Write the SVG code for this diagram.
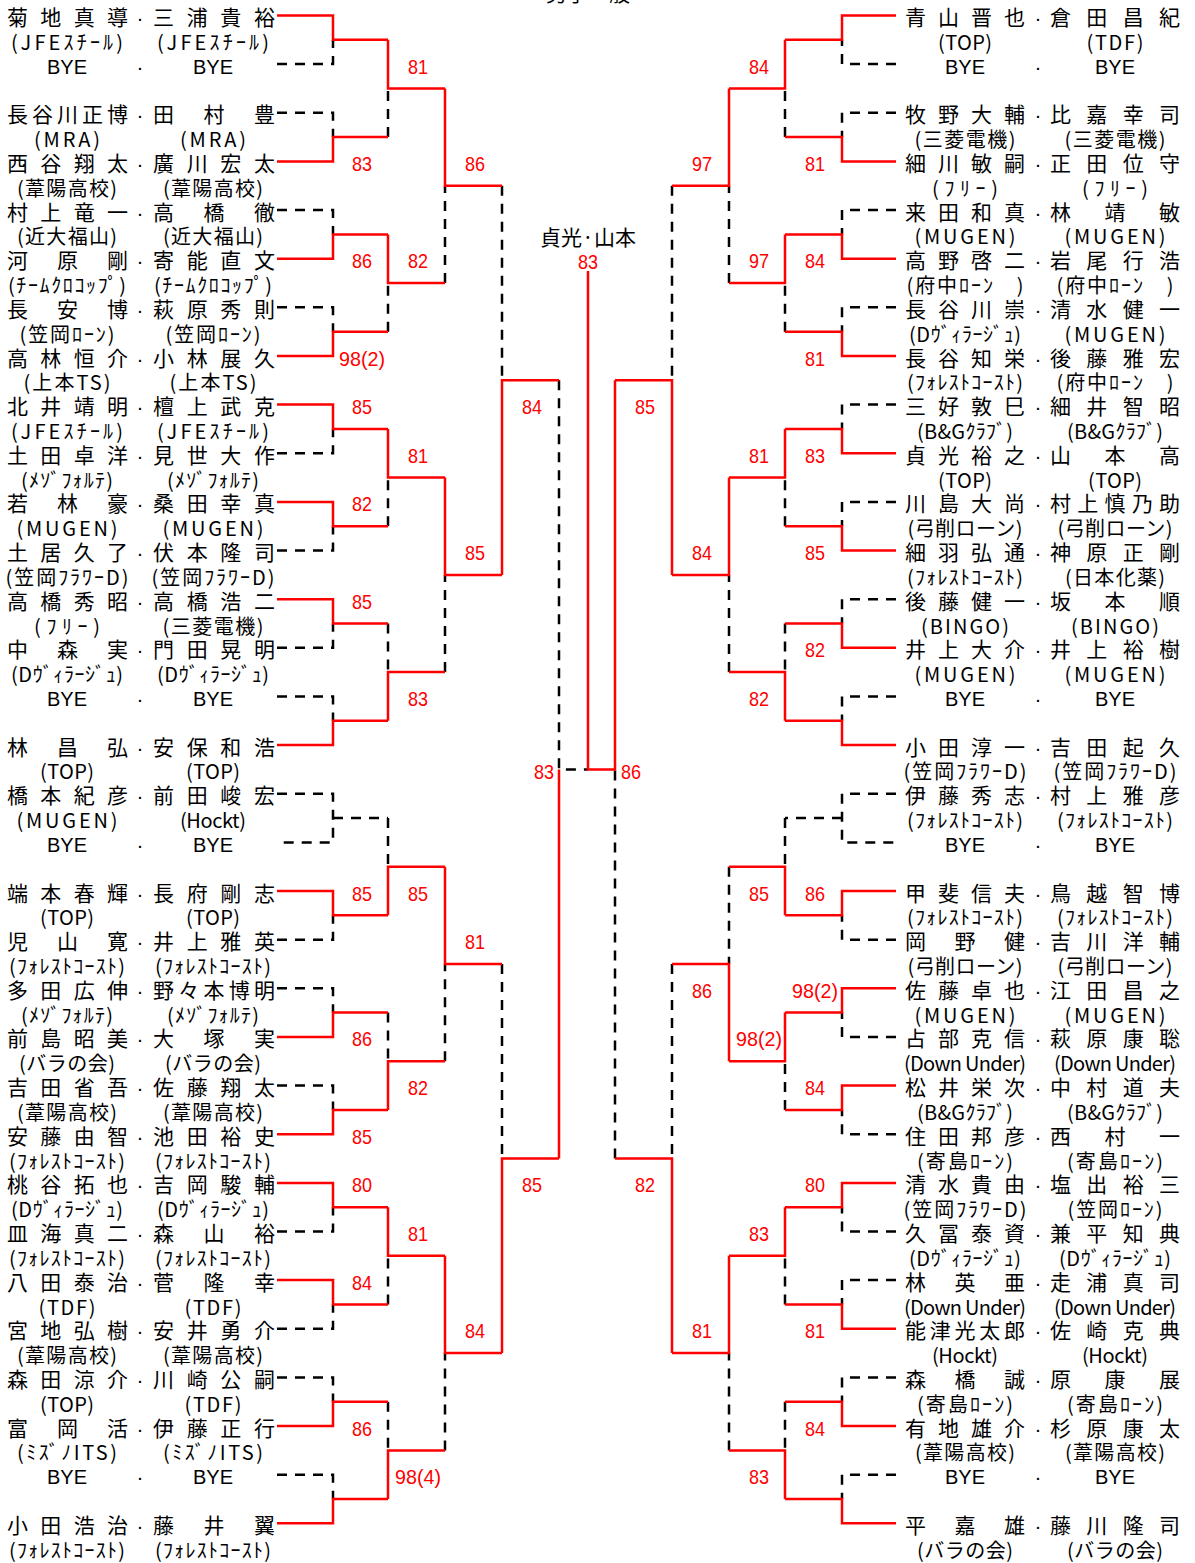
<svg xmlns="http://www.w3.org/2000/svg" width="1195" height="1563" viewBox="0 0 1195 1563">
<style>
.n{font-family:"Noto Sans CJK JP","Noto Sans CJK SC",sans-serif;font-size:21px;fill:#000}
.c{font-family:"Noto Sans CJK JP","Noto Sans CJK SC",sans-serif;font-size:20px;fill:#000}
.b{font-family:"Liberation Sans",Arial,sans-serif;font-size:20px;fill:#000;text-anchor:middle}
.t{font-family:"Liberation Sans",Arial,sans-serif;font-size:21px;fill:#000;text-anchor:middle}
.s{font-family:"Liberation Sans",Arial,sans-serif;font-size:21px;fill:#f00}
.r{fill:none;stroke:#f00;stroke-width:2.5}
.d{fill:none;stroke:#000;stroke-width:2.5;stroke-dasharray:10 8}
</style>
<rect width="1195" height="1563" fill="#fff"/>
<text class="n" x="588" y="1" text-anchor="middle">男子一般</text>

<g id="connectors">
<g id="dashed">
<path class="d" d="M277 64.1H333V39.8M277 112.8H333V137.1M277 210.1H333V234.4M277 307.3H333V331.7M277 453.3H333V428.9M277 550.5H333V526.2M277 647.8H333V623.5M277 696.5H333V720.8M277 793.7H333V842.4H277M333 818.1H388M277 939.7H333V915.3M277 988.3H333V1012.6M277 1085.6H333V1109.9M277 1231.5H333V1207.2M277 1328.8H333V1304.5M277 1377.4H333V1401.7M277 1474.7H333V1499"/>
<path class="d" d="M388 137.1V88.5M388 331.7V283M388 526.2V477.6M388 623.5V672.1M388 818.1V866.7M388 1012.6V1061.3M388 1304.5V1255.8M388 1401.7V1450.4"/>
<path class="d" d="M445 283V185.7M445 672.1V574.9M445 1061.3V964M445 1450.4V1353.1"/>
<path class="d" d="M502 185.7V380.3M502 964V1158.5"/>
<path class="d" d="M559 380.3V769.4H588"/>
<path class="d" d="M896 64.1H842V39.8M896 112.8H842V137.1M896 210.1H842V234.4M896 307.3H842V331.7M896 404.6H842V428.9M896 501.9H842V526.2M896 599.2H842V623.5M896 696.5H842V720.8M896 793.7H842V842.4H896M842 818.1H785M896 939.7H842V915.3M896 1036.9H842V1012.6M896 1134.2H842V1109.9M896 1231.5H842V1207.2M896 1280.1H842V1304.5M896 1377.4H842V1401.7M896 1474.7H842V1499"/>
<path class="d" d="M785 137.1V88.5M785 331.7V283M785 526.2V477.6M785 623.5V672.1M785 818.1V866.7M785 1109.9V1061.3M785 1304.5V1255.8M785 1401.7V1450.4"/>
<path class="d" d="M729 283V185.7M729 672.1V574.9M729 866.7V964M729 1450.4V1353.1"/>
<path class="d" d="M672 185.7V380.3M672 964V1158.5"/>
<path class="d" d="M615 1158.5V769.4"/>
</g>
<g id="red">
<path class="r" d="M277 15.5H333V39.8H388M277 161.4H333V137.1H388M277 258.7H333V234.4H388M277 356H333V331.7H388M277 404.6H333V428.9H388M277 501.9H333V526.2H388M277 599.2H333V623.5H388M277 745.1H333V720.8H388M277 891H333V915.3H388M277 1036.9H333V1012.6H388M277 1134.2H333V1109.9H388M277 1182.9H333V1207.2H388M277 1280.1H333V1304.5H388M277 1426.1H333V1401.7H388M277 1523.3H333V1499H388"/>
<path class="r" d="M388 39.8V88.5H445M388 234.4V283H445M388 428.9V477.6H445M388 720.8V672.1H445M388 915.3V866.7H445M388 1109.9V1061.3H445M388 1207.2V1255.8H445M388 1499V1450.4H445"/>
<path class="r" d="M445 88.5V185.7H502M445 477.6V574.9H502M445 866.7V964H502M445 1255.8V1353.1H502"/>
<path class="r" d="M502 574.9V380.3H559M502 1353.1V1158.5H559"/>
<path class="r" d="M559 1158.5V769.4"/>
<path class="r" d="M896 15.5H842V39.8H785M896 161.4H842V137.1H785M896 258.7H842V234.4H785M896 356H842V331.7H785M896 453.3H842V428.9H785M896 550.5H842V526.2H785M896 647.8H842V623.5H785M896 745.1H842V720.8H785M896 891H842V915.3H785M896 988.3H842V1012.6H785M896 1085.6H842V1109.9H785M896 1182.9H842V1207.2H785M896 1328.8H842V1304.5H785M896 1426.1H842V1401.7H785M896 1523.3H842V1499H785"/>
<path class="r" d="M785 39.8V88.5H729M785 234.4V283H729M785 428.9V477.6H729M785 720.8V672.1H729M785 915.3V866.7H729M785 1012.6V1061.3H729M785 1207.2V1255.8H729M785 1499V1450.4H729"/>
<path class="r" d="M729 88.5V185.7H672M729 477.6V574.9H672M729 1061.3V964H672M729 1255.8V1353.1H672"/>
<path class="r" d="M672 574.9V380.3H615M672 1353.1V1158.5H615"/>
<path class="r" d="M615 380.3V769.4H588V271"/>
</g>
</g>

<g id="scores">
<text class="s" lengthAdjust="spacingAndGlyphs" textLength="20" x="352" y="170.9">83</text>
<text class="s" lengthAdjust="spacingAndGlyphs" textLength="20" x="352" y="268.2">86</text>
<text class="s" lengthAdjust="spacingAndGlyphs" textLength="46" x="339" y="365.5">98(2)</text>
<text class="s" lengthAdjust="spacingAndGlyphs" textLength="20" x="352" y="414.1">85</text>
<text class="s" lengthAdjust="spacingAndGlyphs" textLength="20" x="352" y="511.4">82</text>
<text class="s" lengthAdjust="spacingAndGlyphs" textLength="20" x="352" y="608.7">85</text>
<text class="s" lengthAdjust="spacingAndGlyphs" textLength="20" x="352" y="900.5">85</text>
<text class="s" lengthAdjust="spacingAndGlyphs" textLength="20" x="352" y="1046.4">86</text>
<text class="s" lengthAdjust="spacingAndGlyphs" textLength="20" x="352" y="1143.7">85</text>
<text class="s" lengthAdjust="spacingAndGlyphs" textLength="20" x="352" y="1192.4">80</text>
<text class="s" lengthAdjust="spacingAndGlyphs" textLength="20" x="352" y="1289.6">84</text>
<text class="s" lengthAdjust="spacingAndGlyphs" textLength="20" x="352" y="1435.6">86</text>
<text class="s" lengthAdjust="spacingAndGlyphs" textLength="20" x="408" y="73.6">81</text>
<text class="s" lengthAdjust="spacingAndGlyphs" textLength="20" x="408" y="268.2">82</text>
<text class="s" lengthAdjust="spacingAndGlyphs" textLength="20" x="408" y="462.8">81</text>
<text class="s" lengthAdjust="spacingAndGlyphs" textLength="20" x="408" y="706">83</text>
<text class="s" lengthAdjust="spacingAndGlyphs" textLength="20" x="408" y="900.5">85</text>
<text class="s" lengthAdjust="spacingAndGlyphs" textLength="20" x="408" y="1095.1">82</text>
<text class="s" lengthAdjust="spacingAndGlyphs" textLength="20" x="408" y="1241">81</text>
<text class="s" lengthAdjust="spacingAndGlyphs" textLength="46" x="395" y="1484.2">98(4)</text>
<text class="s" lengthAdjust="spacingAndGlyphs" textLength="20" x="465" y="170.9">86</text>
<text class="s" lengthAdjust="spacingAndGlyphs" textLength="20" x="465" y="560">85</text>
<text class="s" lengthAdjust="spacingAndGlyphs" textLength="20" x="465" y="949.2">81</text>
<text class="s" lengthAdjust="spacingAndGlyphs" textLength="20" x="465" y="1338.3">84</text>
<text class="s" lengthAdjust="spacingAndGlyphs" textLength="20" x="522" y="414.1">84</text>
<text class="s" lengthAdjust="spacingAndGlyphs" textLength="20" x="522" y="1192.4">85</text>
<text class="s" lengthAdjust="spacingAndGlyphs" textLength="20" x="534" y="778.9">83</text>
<text class="s" lengthAdjust="spacingAndGlyphs" textLength="20" x="805" y="170.9">81</text>
<text class="s" lengthAdjust="spacingAndGlyphs" textLength="20" x="805" y="268.2">84</text>
<text class="s" lengthAdjust="spacingAndGlyphs" textLength="20" x="805" y="365.5">81</text>
<text class="s" lengthAdjust="spacingAndGlyphs" textLength="20" x="805" y="462.8">83</text>
<text class="s" lengthAdjust="spacingAndGlyphs" textLength="20" x="805" y="560">85</text>
<text class="s" lengthAdjust="spacingAndGlyphs" textLength="20" x="805" y="657.3">82</text>
<text class="s" lengthAdjust="spacingAndGlyphs" textLength="20" x="805" y="900.5">86</text>
<text class="s" lengthAdjust="spacingAndGlyphs" textLength="46" x="792" y="997.8">98(2)</text>
<text class="s" lengthAdjust="spacingAndGlyphs" textLength="20" x="805" y="1095.1">84</text>
<text class="s" lengthAdjust="spacingAndGlyphs" textLength="20" x="805" y="1192.4">80</text>
<text class="s" lengthAdjust="spacingAndGlyphs" textLength="20" x="805" y="1338.3">81</text>
<text class="s" lengthAdjust="spacingAndGlyphs" textLength="20" x="805" y="1435.6">84</text>
<text class="s" lengthAdjust="spacingAndGlyphs" textLength="20" x="749" y="73.6">84</text>
<text class="s" lengthAdjust="spacingAndGlyphs" textLength="20" x="749" y="268.2">97</text>
<text class="s" lengthAdjust="spacingAndGlyphs" textLength="20" x="749" y="462.8">81</text>
<text class="s" lengthAdjust="spacingAndGlyphs" textLength="20" x="749" y="706">82</text>
<text class="s" lengthAdjust="spacingAndGlyphs" textLength="20" x="749" y="900.5">85</text>
<text class="s" lengthAdjust="spacingAndGlyphs" textLength="46" x="736" y="1046.4">98(2)</text>
<text class="s" lengthAdjust="spacingAndGlyphs" textLength="20" x="749" y="1241">83</text>
<text class="s" lengthAdjust="spacingAndGlyphs" textLength="20" x="749" y="1484.2">83</text>
<text class="s" lengthAdjust="spacingAndGlyphs" textLength="20" x="692" y="170.9">97</text>
<text class="s" lengthAdjust="spacingAndGlyphs" textLength="20" x="692" y="560">84</text>
<text class="s" lengthAdjust="spacingAndGlyphs" textLength="20" x="692" y="997.8">86</text>
<text class="s" lengthAdjust="spacingAndGlyphs" textLength="20" x="692" y="1338.3">81</text>
<text class="s" lengthAdjust="spacingAndGlyphs" textLength="20" x="635" y="414.1">85</text>
<text class="s" lengthAdjust="spacingAndGlyphs" textLength="20" x="635" y="1192.4">82</text>
<text class="s" lengthAdjust="spacingAndGlyphs" textLength="20" x="621" y="778.9">86</text>
</g>

<g id="champion">
<text class="n" x="588" y="245" text-anchor="middle">貞光·山本</text>
<text class="s" lengthAdjust="spacingAndGlyphs" textLength="20" x="578" y="268.5">83</text>
</g>

<g id="left">
<g id="L0"><text class="n" x="7" y="25" textLength="121">菊地真導</text><text class="t" x="140" y="25">·</text><text class="n" x="153" y="25" textLength="122">三浦貴裕</text><text class="c" x="11" y="49.8" textLength="112">(JFEｽﾁｰﾙ)</text><text class="c" x="157" y="49.8" textLength="112">(JFEｽﾁｰﾙ)</text></g>
<g id="L2"><text class="b" x="67" y="73.6">BYE</text><text class="t" x="140" y="73.6">·</text><text class="b" x="213" y="73.6">BYE</text></g>
<g id="L4"><text class="n" x="7" y="122.3" textLength="121">長谷川正博</text><text class="t" x="140" y="122.3">·</text><text class="n" x="153" y="122.3" textLength="122">田村豊</text><text class="c" x="34" y="147.1" textLength="66">(MRA)</text><text class="c" x="180" y="147.1" textLength="66">(MRA)</text></g>
<g id="L6"><text class="n" x="7" y="170.9" textLength="121">西谷翔太</text><text class="t" x="140" y="170.9">·</text><text class="n" x="153" y="170.9" textLength="122">廣川宏太</text><text class="c" x="17" y="195.7" textLength="100">(葦陽高校)</text><text class="c" x="163" y="195.7" textLength="100">(葦陽高校)</text></g>
<g id="L8"><text class="n" x="7" y="219.6" textLength="121">村上竜一</text><text class="t" x="140" y="219.6">·</text><text class="n" x="153" y="219.6" textLength="122">高橋徹</text><text class="c" x="17" y="244.4" textLength="100">(近大福山)</text><text class="c" x="163" y="244.4" textLength="100">(近大福山)</text></g>
<g id="L10"><text class="n" x="7" y="268.2" textLength="121">河原剛</text><text class="t" x="140" y="268.2">·</text><text class="n" x="153" y="268.2" textLength="122">寄能直文</text><text class="c" x="8" y="293" textLength="118">(ﾁｰﾑｸﾛｺｯﾌﾟ)</text><text class="c" x="154" y="293" textLength="118">(ﾁｰﾑｸﾛｺｯﾌﾟ)</text></g>
<g id="L12"><text class="n" x="7" y="316.8" textLength="121">長安博</text><text class="t" x="140" y="316.8">·</text><text class="n" x="153" y="316.8" textLength="122">萩原秀則</text><text class="c" x="19.5" y="341.7" textLength="95">(笠岡ﾛｰﾝ)</text><text class="c" x="165.5" y="341.7" textLength="95">(笠岡ﾛｰﾝ)</text></g>
<g id="L14"><text class="n" x="7" y="365.5" textLength="121">高林恒介</text><text class="t" x="140" y="365.5">·</text><text class="n" x="153" y="365.5" textLength="122">小林展久</text><text class="c" x="23.5" y="390.3" textLength="87">(上本TS)</text><text class="c" x="169.5" y="390.3" textLength="87">(上本TS)</text></g>
<g id="L16"><text class="n" x="7" y="414.1" textLength="121">北井靖明</text><text class="t" x="140" y="414.1">·</text><text class="n" x="153" y="414.1" textLength="122">檀上武克</text><text class="c" x="11" y="438.9" textLength="112">(JFEｽﾁｰﾙ)</text><text class="c" x="157" y="438.9" textLength="112">(JFEｽﾁｰﾙ)</text></g>
<g id="L18"><text class="n" x="7" y="462.8" textLength="121">土田卓洋</text><text class="t" x="140" y="462.8">·</text><text class="n" x="153" y="462.8" textLength="122">見世大作</text><text class="c" x="21" y="487.6" textLength="92">(ﾒｿﾞﾌｫﾙﾃ)</text><text class="c" x="167" y="487.6" textLength="92">(ﾒｿﾞﾌｫﾙﾃ)</text></g>
<g id="L20"><text class="n" x="7" y="511.4" textLength="121">若林豪</text><text class="t" x="140" y="511.4">·</text><text class="n" x="153" y="511.4" textLength="122">桑田幸真</text><text class="c" x="16.5" y="536.2" textLength="101">(MUGEN)</text><text class="c" x="162.5" y="536.2" textLength="101">(MUGEN)</text></g>
<g id="L22"><text class="n" x="7" y="560" textLength="121">土居久了</text><text class="t" x="140" y="560">·</text><text class="n" x="153" y="560" textLength="122">伏本隆司</text><text class="c" x="5.5" y="584.9" textLength="123">(笠岡ﾌﾗﾜｰD)</text><text class="c" x="151.5" y="584.9" textLength="123">(笠岡ﾌﾗﾜｰD)</text></g>
<g id="L24"><text class="n" x="7" y="608.7" textLength="121">高橋秀昭</text><text class="t" x="140" y="608.7">·</text><text class="n" x="153" y="608.7" textLength="122">高橋浩二</text><text class="c" x="34" y="633.5" textLength="66">(ﾌﾘｰ)</text><text class="c" x="162.5" y="633.5" textLength="101">(三菱電機)</text></g>
<g id="L26"><text class="n" x="7" y="657.3" textLength="121">中森実</text><text class="t" x="140" y="657.3">·</text><text class="n" x="153" y="657.3" textLength="122">門田晃明</text><text class="c" x="11" y="682.1" textLength="112">(Dｳﾞｨﾗｰｼﾞｭ)</text><text class="c" x="157" y="682.1" textLength="112">(Dｳﾞｨﾗｰｼﾞｭ)</text></g>
<g id="L28"><text class="b" x="67" y="706">BYE</text><text class="t" x="140" y="706">·</text><text class="b" x="213" y="706">BYE</text></g>
<g id="L30"><text class="n" x="7" y="754.6" textLength="121">林昌弘</text><text class="t" x="140" y="754.6">·</text><text class="n" x="153" y="754.6" textLength="122">安保和浩</text><text class="c" x="40" y="779.4" textLength="54">(TOP)</text><text class="c" x="186" y="779.4" textLength="54">(TOP)</text></g>
<g id="L32"><text class="n" x="7" y="803.2" textLength="121">橋本紀彦</text><text class="t" x="140" y="803.2">·</text><text class="n" x="153" y="803.2" textLength="122">前田峻宏</text><text class="c" x="16.5" y="828.1" textLength="101">(MUGEN)</text><text class="c" x="180" y="828.1" textLength="66">(Hockt)</text></g>
<g id="L34"><text class="b" x="67" y="851.9">BYE</text><text class="t" x="140" y="851.9">·</text><text class="b" x="213" y="851.9">BYE</text></g>
<g id="L36"><text class="n" x="7" y="900.5" textLength="121">端本春輝</text><text class="t" x="140" y="900.5">·</text><text class="n" x="153" y="900.5" textLength="122">長府剛志</text><text class="c" x="40" y="925.3" textLength="54">(TOP)</text><text class="c" x="186" y="925.3" textLength="54">(TOP)</text></g>
<g id="L38"><text class="n" x="7" y="949.2" textLength="121">児山寛</text><text class="t" x="140" y="949.2">·</text><text class="n" x="153" y="949.2" textLength="122">井上雅英</text><text class="c" x="9" y="974" textLength="116">(ﾌｫﾚｽﾄｺｰｽﾄ)</text><text class="c" x="155" y="974" textLength="116">(ﾌｫﾚｽﾄｺｰｽﾄ)</text></g>
<g id="L40"><text class="n" x="7" y="997.8" textLength="121">多田広伸</text><text class="t" x="140" y="997.8">·</text><text class="n" x="153" y="997.8" textLength="122">野々本博明</text><text class="c" x="21" y="1022.6" textLength="92">(ﾒｿﾞﾌｫﾙﾃ)</text><text class="c" x="167" y="1022.6" textLength="92">(ﾒｿﾞﾌｫﾙﾃ)</text></g>
<g id="L42"><text class="n" x="7" y="1046.4" textLength="121">前島昭美</text><text class="t" x="140" y="1046.4">·</text><text class="n" x="153" y="1046.4" textLength="122">大塚実</text><text class="c" x="19" y="1071.3" textLength="96">(バラの会)</text><text class="c" x="165" y="1071.3" textLength="96">(バラの会)</text></g>
<g id="L44"><text class="n" x="7" y="1095.1" textLength="121">吉田省吾</text><text class="t" x="140" y="1095.1">·</text><text class="n" x="153" y="1095.1" textLength="122">佐藤翔太</text><text class="c" x="17" y="1119.9" textLength="100">(葦陽高校)</text><text class="c" x="163" y="1119.9" textLength="100">(葦陽高校)</text></g>
<g id="L46"><text class="n" x="7" y="1143.7" textLength="121">安藤由智</text><text class="t" x="140" y="1143.7">·</text><text class="n" x="153" y="1143.7" textLength="122">池田裕史</text><text class="c" x="9" y="1168.5" textLength="116">(ﾌｫﾚｽﾄｺｰｽﾄ)</text><text class="c" x="155" y="1168.5" textLength="116">(ﾌｫﾚｽﾄｺｰｽﾄ)</text></g>
<g id="L48"><text class="n" x="7" y="1192.4" textLength="121">桃谷拓也</text><text class="t" x="140" y="1192.4">·</text><text class="n" x="153" y="1192.4" textLength="122">吉岡駿輔</text><text class="c" x="11" y="1217.2" textLength="112">(Dｳﾞｨﾗｰｼﾞｭ)</text><text class="c" x="157" y="1217.2" textLength="112">(Dｳﾞｨﾗｰｼﾞｭ)</text></g>
<g id="L50"><text class="n" x="7" y="1241" textLength="121">皿海真二</text><text class="t" x="140" y="1241">·</text><text class="n" x="153" y="1241" textLength="122">森山裕</text><text class="c" x="9" y="1265.8" textLength="116">(ﾌｫﾚｽﾄｺｰｽﾄ)</text><text class="c" x="155" y="1265.8" textLength="116">(ﾌｫﾚｽﾄｺｰｽﾄ)</text></g>
<g id="L52"><text class="n" x="7" y="1289.6" textLength="121">八田泰治</text><text class="t" x="140" y="1289.6">·</text><text class="n" x="153" y="1289.6" textLength="122">菅隆幸</text><text class="c" x="38.5" y="1314.5" textLength="57">(TDF)</text><text class="c" x="184.5" y="1314.5" textLength="57">(TDF)</text></g>
<g id="L54"><text class="n" x="7" y="1338.3" textLength="121">宮地弘樹</text><text class="t" x="140" y="1338.3">·</text><text class="n" x="153" y="1338.3" textLength="122">安井勇介</text><text class="c" x="17" y="1363.1" textLength="100">(葦陽高校)</text><text class="c" x="163" y="1363.1" textLength="100">(葦陽高校)</text></g>
<g id="L56"><text class="n" x="7" y="1386.9" textLength="121">森田涼介</text><text class="t" x="140" y="1386.9">·</text><text class="n" x="153" y="1386.9" textLength="122">川崎公嗣</text><text class="c" x="40" y="1411.7" textLength="54">(TOP)</text><text class="c" x="184.5" y="1411.7" textLength="57">(TDF)</text></g>
<g id="L58"><text class="n" x="7" y="1435.6" textLength="121">富岡活</text><text class="t" x="140" y="1435.6">·</text><text class="n" x="153" y="1435.6" textLength="122">伊藤正行</text><text class="c" x="17" y="1460.4" textLength="100">(ﾐｽﾞﾉITS)</text><text class="c" x="163" y="1460.4" textLength="100">(ﾐｽﾞﾉITS)</text></g>
<g id="L60"><text class="b" x="67" y="1484.2">BYE</text><text class="t" x="140" y="1484.2">·</text><text class="b" x="213" y="1484.2">BYE</text></g>
<g id="L62"><text class="n" x="7" y="1532.8" textLength="121">小田浩治</text><text class="t" x="140" y="1532.8">·</text><text class="n" x="153" y="1532.8" textLength="122">藤井翼</text><text class="c" x="9" y="1557.7" textLength="116">(ﾌｫﾚｽﾄｺｰｽﾄ)</text><text class="c" x="155" y="1557.7" textLength="116">(ﾌｫﾚｽﾄｺｰｽﾄ)</text></g>
</g>

<g id="right">
<g id="R0"><text class="n" x="905" y="25" textLength="120">青山晋也</text><text class="t" x="1038" y="25">·</text><text class="n" x="1050" y="25" textLength="130">倉田昌紀</text><text class="c" x="938" y="49.8" textLength="54">(TOP)</text><text class="c" x="1086.5" y="49.8" textLength="57">(TDF)</text></g>
<g id="R2"><text class="b" x="965" y="73.6">BYE</text><text class="t" x="1038" y="73.6">·</text><text class="b" x="1115" y="73.6">BYE</text></g>
<g id="R4"><text class="n" x="905" y="122.3" textLength="120">牧野大輔</text><text class="t" x="1038" y="122.3">·</text><text class="n" x="1050" y="122.3" textLength="130">比嘉幸司</text><text class="c" x="914.5" y="147.1" textLength="101">(三菱電機)</text><text class="c" x="1064.5" y="147.1" textLength="101">(三菱電機)</text></g>
<g id="R6"><text class="n" x="905" y="170.9" textLength="120">細川敏嗣</text><text class="t" x="1038" y="170.9">·</text><text class="n" x="1050" y="170.9" textLength="130">正田位守</text><text class="c" x="932" y="195.7" textLength="66">(ﾌﾘｰ)</text><text class="c" x="1082" y="195.7" textLength="66">(ﾌﾘｰ)</text></g>
<g id="R8"><text class="n" x="905" y="219.6" textLength="120">来田和真</text><text class="t" x="1038" y="219.6">·</text><text class="n" x="1050" y="219.6" textLength="130">林靖敏</text><text class="c" x="914.5" y="244.4" textLength="101">(MUGEN)</text><text class="c" x="1064.5" y="244.4" textLength="101">(MUGEN)</text></g>
<g id="R10"><text class="n" x="905" y="268.2" textLength="120">高野啓二</text><text class="t" x="1038" y="268.2">·</text><text class="n" x="1050" y="268.2" textLength="130">岩尾行浩</text><text class="c" x="906.5" y="293" textLength="117">(府中ﾛｰﾝ　)</text><text class="c" x="1056.5" y="293" textLength="117">(府中ﾛｰﾝ　)</text></g>
<g id="R12"><text class="n" x="905" y="316.8" textLength="120">長谷川崇</text><text class="t" x="1038" y="316.8">·</text><text class="n" x="1050" y="316.8" textLength="130">清水健一</text><text class="c" x="909" y="341.7" textLength="112">(Dｳﾞｨﾗｰｼﾞｭ)</text><text class="c" x="1064.5" y="341.7" textLength="101">(MUGEN)</text></g>
<g id="R14"><text class="n" x="905" y="365.5" textLength="120">長谷知栄</text><text class="t" x="1038" y="365.5">·</text><text class="n" x="1050" y="365.5" textLength="130">後藤雅宏</text><text class="c" x="907" y="390.3" textLength="116">(ﾌｫﾚｽﾄｺｰｽﾄ)</text><text class="c" x="1056.5" y="390.3" textLength="117">(府中ﾛｰﾝ　)</text></g>
<g id="R16"><text class="n" x="905" y="414.1" textLength="120">三好敦巳</text><text class="t" x="1038" y="414.1">·</text><text class="n" x="1050" y="414.1" textLength="130">細井智昭</text><text class="c" x="917" y="438.9" textLength="96">(B&amp;Gｸﾗﾌﾞ)</text><text class="c" x="1067" y="438.9" textLength="96">(B&amp;Gｸﾗﾌﾞ)</text></g>
<g id="R18"><text class="n" x="905" y="462.8" textLength="120">貞光裕之</text><text class="t" x="1038" y="462.8">·</text><text class="n" x="1050" y="462.8" textLength="130">山本高</text><text class="c" x="938" y="487.6" textLength="54">(TOP)</text><text class="c" x="1088" y="487.6" textLength="54">(TOP)</text></g>
<g id="R20"><text class="n" x="905" y="511.4" textLength="120">川島大尚</text><text class="t" x="1038" y="511.4">·</text><text class="n" x="1050" y="511.4" textLength="130">村上慎乃助</text><text class="c" x="907.5" y="536.2" textLength="115">(弓削ローン)</text><text class="c" x="1057.5" y="536.2" textLength="115">(弓削ローン)</text></g>
<g id="R22"><text class="n" x="905" y="560" textLength="120">細羽弘通</text><text class="t" x="1038" y="560">·</text><text class="n" x="1050" y="560" textLength="130">神原正剛</text><text class="c" x="907" y="584.9" textLength="116">(ﾌｫﾚｽﾄｺｰｽﾄ)</text><text class="c" x="1065" y="584.9" textLength="100">(日本化薬)</text></g>
<g id="R24"><text class="n" x="905" y="608.7" textLength="120">後藤健一</text><text class="t" x="1038" y="608.7">·</text><text class="n" x="1050" y="608.7" textLength="130">坂本順</text><text class="c" x="921" y="633.5" textLength="88">(BINGO)</text><text class="c" x="1071" y="633.5" textLength="88">(BINGO)</text></g>
<g id="R26"><text class="n" x="905" y="657.3" textLength="120">井上大介</text><text class="t" x="1038" y="657.3">·</text><text class="n" x="1050" y="657.3" textLength="130">井上裕樹</text><text class="c" x="914.5" y="682.1" textLength="101">(MUGEN)</text><text class="c" x="1064.5" y="682.1" textLength="101">(MUGEN)</text></g>
<g id="R28"><text class="b" x="965" y="706">BYE</text><text class="t" x="1038" y="706">·</text><text class="b" x="1115" y="706">BYE</text></g>
<g id="R30"><text class="n" x="905" y="754.6" textLength="120">小田淳一</text><text class="t" x="1038" y="754.6">·</text><text class="n" x="1050" y="754.6" textLength="130">吉田起久</text><text class="c" x="903.5" y="779.4" textLength="123">(笠岡ﾌﾗﾜｰD)</text><text class="c" x="1053.5" y="779.4" textLength="123">(笠岡ﾌﾗﾜｰD)</text></g>
<g id="R32"><text class="n" x="905" y="803.2" textLength="120">伊藤秀志</text><text class="t" x="1038" y="803.2">·</text><text class="n" x="1050" y="803.2" textLength="130">村上雅彦</text><text class="c" x="907" y="828.1" textLength="116">(ﾌｫﾚｽﾄｺｰｽﾄ)</text><text class="c" x="1057" y="828.1" textLength="116">(ﾌｫﾚｽﾄｺｰｽﾄ)</text></g>
<g id="R34"><text class="b" x="965" y="851.9">BYE</text><text class="t" x="1038" y="851.9">·</text><text class="b" x="1115" y="851.9">BYE</text></g>
<g id="R36"><text class="n" x="905" y="900.5" textLength="120">甲斐信夫</text><text class="t" x="1038" y="900.5">·</text><text class="n" x="1050" y="900.5" textLength="130">鳥越智博</text><text class="c" x="907" y="925.3" textLength="116">(ﾌｫﾚｽﾄｺｰｽﾄ)</text><text class="c" x="1057" y="925.3" textLength="116">(ﾌｫﾚｽﾄｺｰｽﾄ)</text></g>
<g id="R38"><text class="n" x="905" y="949.2" textLength="120">岡野健</text><text class="t" x="1038" y="949.2">·</text><text class="n" x="1050" y="949.2" textLength="130">吉川洋輔</text><text class="c" x="907.5" y="974" textLength="115">(弓削ローン)</text><text class="c" x="1057.5" y="974" textLength="115">(弓削ローン)</text></g>
<g id="R40"><text class="n" x="905" y="997.8" textLength="120">佐藤卓也</text><text class="t" x="1038" y="997.8">·</text><text class="n" x="1050" y="997.8" textLength="130">江田昌之</text><text class="c" x="914.5" y="1022.6" textLength="101">(MUGEN)</text><text class="c" x="1064.5" y="1022.6" textLength="101">(MUGEN)</text></g>
<g id="R42"><text class="n" x="905" y="1046.4" textLength="120">占部克信</text><text class="t" x="1038" y="1046.4">·</text><text class="n" x="1050" y="1046.4" textLength="130">萩原康聡</text><text class="c" x="904" y="1071.3" textLength="122">(Down Under)</text><text class="c" x="1054" y="1071.3" textLength="122">(Down Under)</text></g>
<g id="R44"><text class="n" x="905" y="1095.1" textLength="120">松井栄次</text><text class="t" x="1038" y="1095.1">·</text><text class="n" x="1050" y="1095.1" textLength="130">中村道夫</text><text class="c" x="917" y="1119.9" textLength="96">(B&amp;Gｸﾗﾌﾞ)</text><text class="c" x="1067" y="1119.9" textLength="96">(B&amp;Gｸﾗﾌﾞ)</text></g>
<g id="R46"><text class="n" x="905" y="1143.7" textLength="120">住田邦彦</text><text class="t" x="1038" y="1143.7">·</text><text class="n" x="1050" y="1143.7" textLength="130">西村一</text><text class="c" x="917" y="1168.5" textLength="96">(寄島ﾛｰﾝ)</text><text class="c" x="1067" y="1168.5" textLength="96">(寄島ﾛｰﾝ)</text></g>
<g id="R48"><text class="n" x="905" y="1192.4" textLength="120">清水貴由</text><text class="t" x="1038" y="1192.4">·</text><text class="n" x="1050" y="1192.4" textLength="130">塩出裕三</text><text class="c" x="903.5" y="1217.2" textLength="123">(笠岡ﾌﾗﾜｰD)</text><text class="c" x="1067.5" y="1217.2" textLength="95">(笠岡ﾛｰﾝ)</text></g>
<g id="R50"><text class="n" x="905" y="1241" textLength="120">久冨泰資</text><text class="t" x="1038" y="1241">·</text><text class="n" x="1050" y="1241" textLength="130">兼平知典</text><text class="c" x="909" y="1265.8" textLength="112">(Dｳﾞｨﾗｰｼﾞｭ)</text><text class="c" x="1059" y="1265.8" textLength="112">(Dｳﾞｨﾗｰｼﾞｭ)</text></g>
<g id="R52"><text class="n" x="905" y="1289.6" textLength="120">林英亜</text><text class="t" x="1038" y="1289.6">·</text><text class="n" x="1050" y="1289.6" textLength="130">走浦真司</text><text class="c" x="904" y="1314.5" textLength="122">(Down Under)</text><text class="c" x="1054" y="1314.5" textLength="122">(Down Under)</text></g>
<g id="R54"><text class="n" x="905" y="1338.3" textLength="120">能津光太郎</text><text class="t" x="1038" y="1338.3">·</text><text class="n" x="1050" y="1338.3" textLength="130">佐崎克典</text><text class="c" x="932" y="1363.1" textLength="66">(Hockt)</text><text class="c" x="1082" y="1363.1" textLength="66">(Hockt)</text></g>
<g id="R56"><text class="n" x="905" y="1386.9" textLength="120">森橋誠</text><text class="t" x="1038" y="1386.9">·</text><text class="n" x="1050" y="1386.9" textLength="130">原康展</text><text class="c" x="917" y="1411.7" textLength="96">(寄島ﾛｰﾝ)</text><text class="c" x="1067" y="1411.7" textLength="96">(寄島ﾛｰﾝ)</text></g>
<g id="R58"><text class="n" x="905" y="1435.6" textLength="120">有地雄介</text><text class="t" x="1038" y="1435.6">·</text><text class="n" x="1050" y="1435.6" textLength="130">杉原康太</text><text class="c" x="915" y="1460.4" textLength="100">(葦陽高校)</text><text class="c" x="1065" y="1460.4" textLength="100">(葦陽高校)</text></g>
<g id="R60"><text class="b" x="965" y="1484.2">BYE</text><text class="t" x="1038" y="1484.2">·</text><text class="b" x="1115" y="1484.2">BYE</text></g>
<g id="R62"><text class="n" x="905" y="1532.8" textLength="120">平嘉雄</text><text class="t" x="1038" y="1532.8">·</text><text class="n" x="1050" y="1532.8" textLength="130">藤川隆司</text><text class="c" x="917" y="1557.7" textLength="96">(バラの会)</text><text class="c" x="1067" y="1557.7" textLength="96">(バラの会)</text></g>
</g>
</svg>
